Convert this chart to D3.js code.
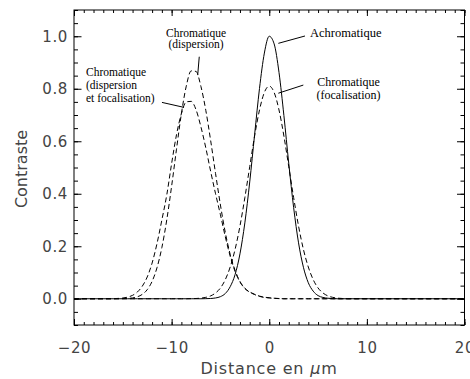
<!DOCTYPE html>
<html>
<head>
<meta charset="utf-8">
<script src="https://cdn.jsdelivr.net/npm/d3@7"></script>
<style>
  body { margin: 0; background: #fff; }
  svg { display: block; }
</style>
</head>
<body>
<svg width="470" height="379"></svg>
<script>
// distance en micrometres, shared by every curve
var distance = [-20, -16, -15.5, -15, -14.5, -14, -13.5, -13, -12.5, -12, -11.5, -11, -10.5, -10,
    -9.5, -9, -8.5, -8, -7.5, -7, -6.5, -6, -5.5, -5, -4.5, -4, -3.5, -3, -2.5, -2, -1.5, -1, -0.5,
    0, 0.5, 1, 1.5, 2, 2.5, 3, 3.5, 4, 4.5, 5, 5.5, 6, 6.5, 7, 7.5, 8, 20];

var achromatique = [0, 0, 0, 0, 0, 0, 0, 0, 0, 0, 0, 0, 0, 0,
    0, 0, 0, 0, 0, 0, 0.0003, 0.001, 0.003, 0.008, 0.020, 0.046, 0.092, 0.171, 0.289, 0.445, 0.625, 0.801, 0.936,
    1.0, 0.971, 0.862, 0.698, 0.515, 0.347, 0.213, 0.120, 0.061, 0.029, 0.012, 0.005, 0.002, 0.0005, 0, 0, 0, 0];

var focalisation = [0, 0, 0, 0, 0, 0, 0, 0, 0, 0, 0, 0, 0, 0,
    0, 0, 0, 0.0004, 0.001, 0.0024, 0.0053, 0.011, 0.022, 0.041, 0.073, 0.121, 0.188, 0.277, 0.385, 0.503, 0.620, 0.719, 0.786,
    0.810, 0.786, 0.719, 0.620, 0.503, 0.385, 0.277, 0.188, 0.121, 0.073, 0.041, 0.022, 0.011, 0.0053, 0.0024, 0.001, 0.0004, 0];

var dispersion = [0, 0, 0.0002, 0.0005, 0.0012, 0.0032, 0.0076, 0.0168, 0.0346, 0.0663, 0.118, 0.195, 0.300, 0.429,
    0.570, 0.705, 0.810, 0.868, 0.866, 0.809, 0.718, 0.602, 0.477, 0.357, 0.252, 0.169, 0.108, 0.066, 0.040, 0.026, 0.017, 0.010, 0.006,
    0.004, 0.002, 0.001, 0, 0, 0, 0, 0, 0, 0, 0, 0, 0, 0, 0, 0, 0, 0];

var dispFocal = [0, 0.0005, 0.0012, 0.0028, 0.0062, 0.013, 0.026, 0.048, 0.083, 0.136, 0.210, 0.300, 0.395, 0.515,
    0.625, 0.705, 0.750, 0.752, 0.720, 0.655, 0.575, 0.485, 0.400, 0.320, 0.236, 0.162, 0.104, 0.064, 0.039, 0.025, 0.016, 0.009, 0.005,
    0.003, 0.0015, 0.0005, 0, 0, 0, 0, 0, 0, 0, 0, 0, 0, 0, 0, 0, 0, 0];

var xMajor = [-20, -10, 0, 10, 20];
var yMajor = [0.0, 0.2, 0.4, 0.6, 0.8, 1.0];

var svg = d3.select("svg");

var x = d3.scaleLinear().domain([-20, 20]).range([74, 464.5]);
var y = d3.scaleLinear().domain([-0.1, 1.1]).range([325, 10]);

var tickFont = "'DejaVu Sans', sans-serif";

// minor ticks on all four sides
function minor(axis, tr, size, vals) {
    svg.append("g")
        .attr("transform", tr)
        .call(axis.tickValues(vals).tickSize(size).tickSizeOuter(0).tickFormat(""))
        .call(function(g) { g.select(".domain").remove(); });
}
minor(d3.axisBottom(x), "translate(0,325)", -3, x.ticks(40));
minor(d3.axisTop(x), "translate(0,10)", -3, x.ticks(40));
minor(d3.axisLeft(y), "translate(74,0)", -4, y.ticks(24));
minor(d3.axisRight(y), "translate(464.5,0)", -4, y.ticks(24));

// major ticks
var bottom = svg.append("g")
    .attr("transform", "translate(0,325)")
    .call(d3.axisBottom(x).tickValues(xMajor).tickSize(-6).tickSizeOuter(0).tickPadding(17).tickFormat(d3.format(".0f")));
svg.append("g")
    .attr("transform", "translate(0,10)")
    .call(d3.axisTop(x).tickValues(xMajor).tickSize(-6).tickSizeOuter(0).tickFormat(""));
var left = svg.append("g")
    .attr("transform", "translate(74,0)")
    .call(d3.axisLeft(y).tickValues(yMajor).tickSize(-7.5).tickSizeOuter(0).tickPadding(6).tickFormat(d3.format(".1f")));
svg.append("g")
    .attr("transform", "translate(464.5,0)")
    .call(d3.axisRight(y).tickValues(yMajor).tickSize(-7.5).tickSizeOuter(0).tickFormat(""));

svg.selectAll(".domain").remove();
svg.selectAll(".tick line").attr("stroke", "#000").attr("stroke-width", 1);
[bottom, left].forEach(function(g) {
    g.attr("font-family", tickFont).attr("font-size", 15);
    g.selectAll("text").attr("fill", "#444").attr("letter-spacing", "0.6px");
});

// frame
svg.append("rect")
    .attr("x", 74).attr("y", 10)
    .attr("width", 390.5).attr("height", 315)
    .attr("fill", "none").attr("stroke", "#000").attr("stroke-width", 1);

// curves
var line = d3.line()
    .x(function(d, i) { return x(distance[i]); })
    .y(function(d) { return y(d); })
    .curve(d3.curveMonotoneX);

svg.append("path").datum(achromatique)
    .attr("d", line).attr("fill", "none").attr("stroke", "#000").attr("stroke-width", 1);

[focalisation, dispersion, dispFocal].forEach(function(s) {
    svg.append("path").datum(s)
        .attr("d", line).attr("fill", "none").attr("stroke", "#000")
        .attr("stroke-width", 1).attr("stroke-dasharray", "5,3");
});

// axis titles
svg.append("text")
    .attr("x", 269).attr("y", 374)
    .attr("text-anchor", "middle")
    .attr("font-family", tickFont).attr("font-size", 16).attr("letter-spacing", "0.8px")
    .attr("fill", "#444")
    .text("Distance en ")
    .call(function(t) {
        t.append("tspan").attr("font-style", "italic").text("\u03bc");
        t.append("tspan").text("m");
    });

svg.append("text")
    .attr("transform", "translate(27,169) rotate(-90)")
    .attr("text-anchor", "middle")
    .attr("font-family", tickFont).attr("font-size", 16)
    .attr("fill", "#444")
    .text("Contraste");

// annotations: leader lines in data units, labels
var leaders = [
    [[0.93, 0.973], [3.66, 1.001]],
    [[0.93, 0.783], [3.49, 0.814]],
    [[-7.17, 0.922], [-7.33, 0.852]],
    [[-10.99, 0.748], [-8.73, 0.729]]
];
leaders.forEach(function(l) {
    svg.append("line")
        .attr("x1", x(l[0][0])).attr("y1", y(l[0][1]))
        .attr("x2", x(l[1][0])).attr("y2", y(l[1][1]))
        .attr("stroke", "#000").attr("stroke-width", 1);
});

var labels = [
    { x: 310, y: 37, anchor: "start", size: 12.5, lines: ["Achromatique"], gap: 0 },
    { x: 348.5, y: 86, anchor: "middle", size: 12, lines: ["Chromatique", "(focalisation)"], gap: 12.5 },
    { x: 196, y: 37, anchor: "middle", size: 11.5, lines: ["Chromatique", "(dispersion)"], gap: 11 },
    { x: 86, y: 76, anchor: "start", size: 11.5, lines: ["Chromatique", "(dispersion", "et focalisation)"], gap: 13 }
];
labels.forEach(function(lb) {
    lb.lines.forEach(function(s, i) {
        svg.append("text")
            .attr("x", lb.x).attr("y", lb.y + i * lb.gap)
            .attr("text-anchor", lb.anchor)
            .attr("font-family", "'Liberation Serif', 'Times New Roman', serif")
            .attr("font-size", lb.size)
            .attr("fill", "#000")
            .text(s);
    });
});
</script>
</body>
</html>
